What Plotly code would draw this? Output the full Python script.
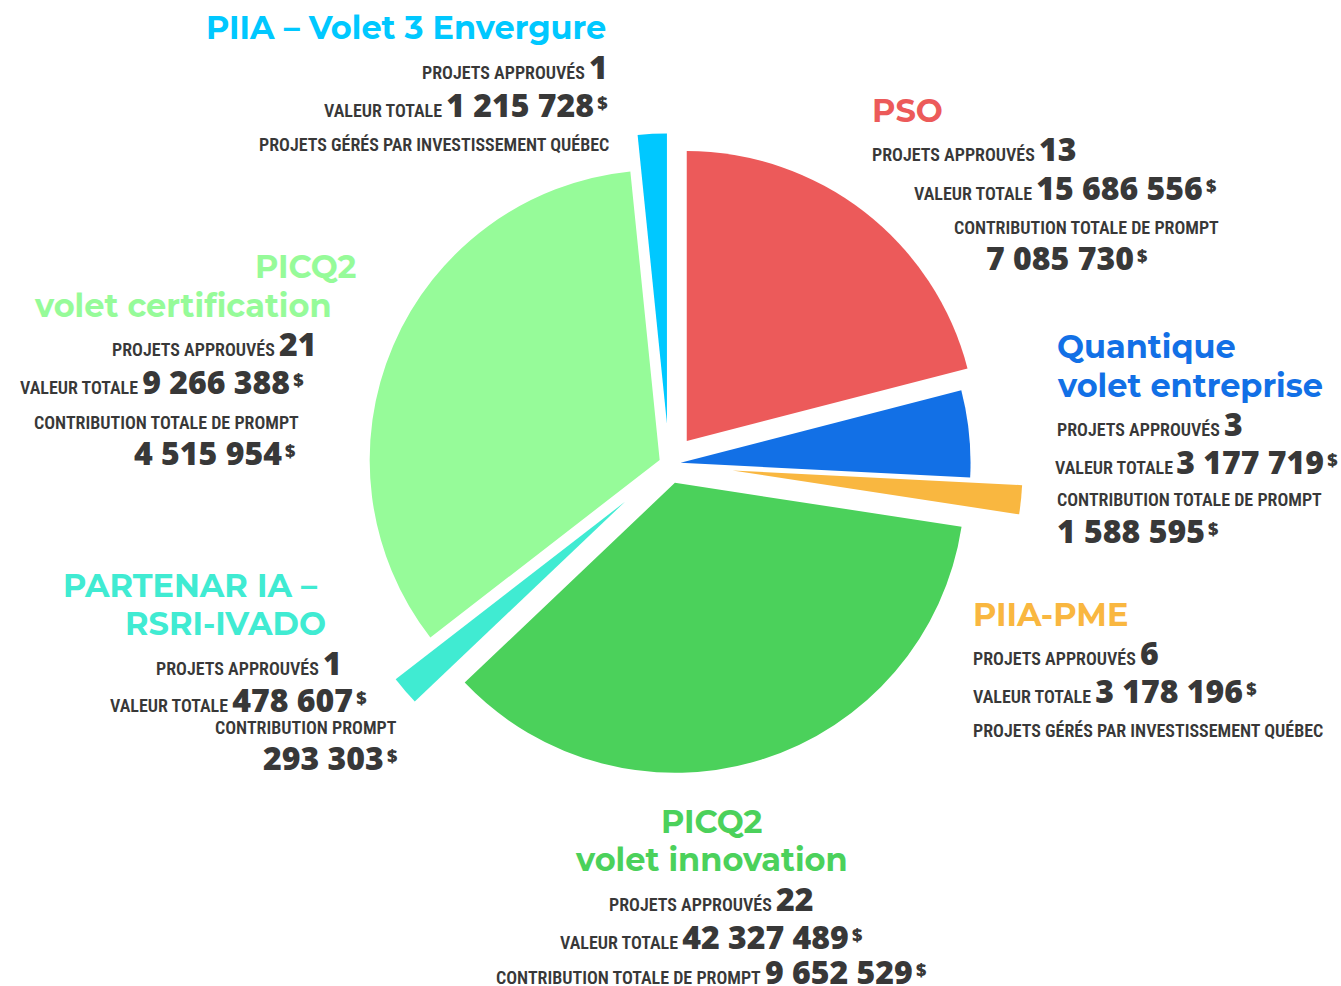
import plotly.graph_objects as go

# ---------------- data ----------------
programs = ["PSO", "Quantique volet entreprise", "PIIA-PME", "PICQ2 volet innovation",
            "PARTENAR IA – RSRI-IVADO", "PICQ2 volet certification", "PIIA – Volet 3 Envergure"]
slice_values = [13, 3, 1, 22, 1, 21, 1]          # slice sizes as drawn in the picture
projets_approuves = ["13", "3", "6", "22", "1", "21", "1"]
valeur_totale = ["15 686 556", "3 177 719", "3 178 196", "42 327 489", "478 607", "9 266 388", "1 215 728"]
contribution = ["7 085 730", "1 588 595", None, "9 652 529", "293 303", "4 515 954", None]

# ---------------- styles ----------------
colors = ["#EC5A5A", "#1270E6", "#F9B740", "#4BD15B", "#40EBD2", "#96FB99", "#00C8FF"]
pulls = [0.10, 0.04, 0.22, 0.068, 0.20, 0.035, 0.14]

W, H = 1341, 986
CX, CY, R = 669, 464, 290
half = R * (1 + max(pulls))

LABEL_FONT = "Roboto Condensed, DejaVu Sans Condensed, Liberation Sans Narrow, Open Sans"
NUM_FONT = "Open Sans"
TXT = "#383838"


def lab(t):
    return (f'<span style="font-family:{LABEL_FONT};font-stretch:75%;font-weight:600;'
            f'font-size:18px;color:{TXT}">{t}</span>')


def num(t, dollar=False):
    s = f'<span style="font-family:{NUM_FONT};font-size:32px;font-weight:800;color:{TXT}">{t}</span>'
    if dollar:
        s += ('<span style="font-size:12px"> </span>'
              f'<sup><span style="font-family:{NUM_FONT};font-size:18px;font-weight:800;color:{TXT}">$</span></sup>')
    return s


fig = go.Figure(go.Pie(
    values=slice_values, labels=programs, sort=False, direction="clockwise", rotation=0,
    pull=pulls, marker=dict(colors=colors, line=dict(width=0)),
    textinfo="none", hoverinfo="label", showlegend=False,
    domain=dict(x=[(CX - half) / W, (CX + half) / W],
                y=[1 - CY / H - half / H, 1 - CY / H + half / H]),
))

annots = []


def add(x, y, html, anchor, size=19):
    annots.append(dict(x=x / W, y=1 - y / H, xref="paper", yref="paper", text=html,
                       showarrow=False, xanchor=anchor, yanchor="middle", align=anchor,
                       borderpad=0, font=dict(family="Open Sans", size=size, color=TXT)))


def title(x, y, t, color, anchor):
    annots.append(dict(x=x / W, y=1 - y / H, xref="paper", yref="paper", text=t,
                       showarrow=False, xanchor=anchor, yanchor="middle", align=anchor,
                       borderpad=0,
                       font=dict(family="Montserrat, Open Sans", size=32, weight=700, color=color)))


SP = '<span style="font-size:16px"> </span>'

# PIIA – Volet 3 Envergure (index 6), right aligned
i = 6
title(607, 28, "PIIA – Volet 3 Envergure", colors[i], "right")
add(609, 67, lab("PROJETS APPROUVÉS") + SP + num(projets_approuves[i]), "right")
add(609, 104, lab("VALEUR TOTALE") + SP + num(valeur_totale[i], True), "right")
add(610, 144, lab("PROJETS GÉRÉS PAR INVESTISSEMENT QUÉBEC"), "right")

# PSO (index 0), stair-step left aligned
i = 0
title(871, 110, "PSO", colors[i], "left")
add(871, 148, lab("PROJETS APPROUVÉS") + SP + num(projets_approuves[i]), "left")
add(913, 187, lab("VALEUR TOTALE") + SP + num(valeur_totale[i], True), "left")
add(953, 227, lab("CONTRIBUTION TOTALE DE PROMPT"), "left")
add(985, 257, num(contribution[i], True), "left")

# Quantique volet entreprise (index 1)
i = 1
title(1056, 346, "Quantique", colors[i], "left")
title(1056, 385, "volet entreprise", colors[i], "left")
add(1056, 423, lab("PROJETS APPROUVÉS") + SP + num(projets_approuves[i]), "left")
add(1054, 461, lab("VALEUR TOTALE") + '<span style="font-size:12px"> </span>'
    + num(valeur_totale[i], True), "left")
add(1056, 499, lab("CONTRIBUTION TOTALE DE PROMPT"), "left")
add(1056, 530, num(contribution[i], True), "left")

# PIIA-PME (index 2)
i = 2
title(972, 614, "PIIA-PME", colors[i], "left")
add(972, 652, lab("PROJETS APPROUVÉS") + SP + num(projets_approuves[i]), "left")
add(972, 690, lab("VALEUR TOTALE") + SP + num(valeur_totale[i], True), "left")
add(972, 730, lab("PROJETS GÉRÉS PAR INVESTISSEMENT QUÉBEC"), "left")

# PICQ2 volet innovation (index 3), centred
i = 3
title(711, 821, "PICQ2", colors[i], "center")
title(711, 859, "volet innovation", colors[i], "center")
add(711, 898, lab("PROJETS APPROUVÉS") + SP + num(projets_approuves[i]), "center")
add(711, 936, lab("VALEUR TOTALE") + SP + num(valeur_totale[i], True), "center")
add(711, 971, lab("CONTRIBUTION TOTALE DE PROMPT") + SP + num(contribution[i], True), "center")

# PARTENAR IA – RSRI-IVADO (index 4)
i = 4
title(318, 585, "PARTENAR IA –", colors[i], "right")
title(327, 623, "RSRI-IVADO", colors[i], "right")
add(343, 662, lab("PROJETS APPROUVÉS") + SP + num(projets_approuves[i]), "right")
add(368, 699, lab("VALEUR TOTALE") + SP + num(valeur_totale[i], True), "right")
add(398, 727, lab("CONTRIBUTION PROMPT"), "right")
add(398, 757, num(contribution[i], True), "right")

# PICQ2 volet certification (index 5)
i = 5
title(357, 267, "PICQ2", colors[i], "right")
title(333, 306, "volet certification", colors[i], "right")
add(318, 344, lab("PROJETS APPROUVÉS") + SP + num(projets_approuves[i]), "right")
add(305, 382, lab("VALEUR TOTALE") + SP + num(valeur_totale[i], True), "right")
add(300, 422, lab("CONTRIBUTION TOTALE DE PROMPT"), "right")
add(296, 452, num(contribution[i], True), "right")

fig.update_layout(width=W, height=H, margin=dict(l=0, r=0, t=0, b=0),
                  paper_bgcolor="white", plot_bgcolor="white", annotations=annots)
fig.write_html("out.html", config={"displayModeBar": False},
               post_script="document.body.style.margin='0';document.body.style.overflow='hidden';")
